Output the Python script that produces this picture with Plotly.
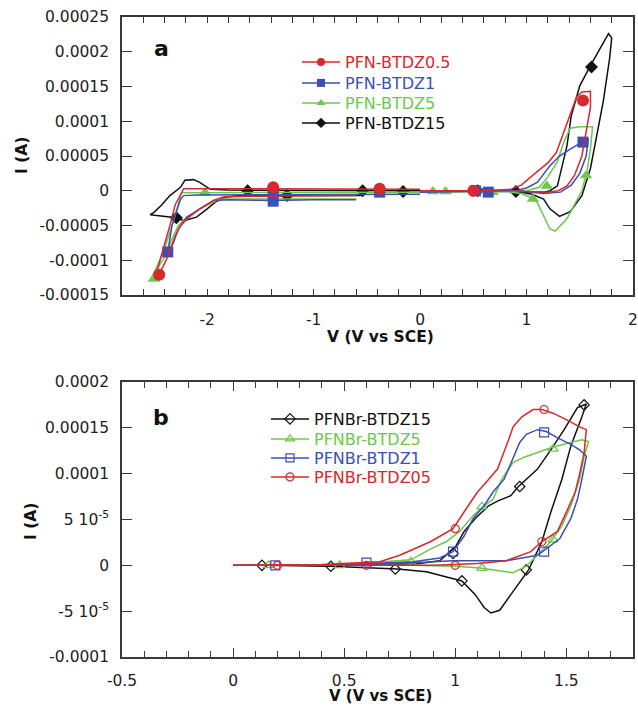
import plotly.graph_objects as go

# ---------------- DATA (current in units of 1e-4 A) ----------------
# Panel a
A_NAMES = ["PFN-BTDZ0.5", "PFN-BTDZ1", "PFN-BTDZ5", "PFN-BTDZ15"]

a_red_v = [0.0, -0.6, -1.0, -1.4, -1.8, -2.1, -2.22, -2.3, -2.35, -2.43, -2.47, -2.49, -2.45, -2.38, -2.3, -2.25, -2.17, -2.07, -1.94, -1.85, -1.6, -1.2, -0.6,
           None,
           0.0, 0.5, 0.85, 0.95, 1.08, 1.2, 1.28, 1.35, 1.42, 1.47, 1.52, 1.6, 1.6, 1.56, 1.52, 1.45, 1.38, 1.3, 1.2, 1.0, 0.9]
a_red_i = [0.02, 0.02, 0.02, 0.03, 0.02, 0.03, 0.03, -0.2, -0.5, -0.93, -1.15, -1.27, -1.2, -0.98, -0.65, -0.5, -0.38, -0.26, -0.14, -0.09, -0.08, -0.08, -0.07,
           None,
           0.0, 0.0, 0.02, 0.08, 0.25, 0.4, 0.55, 0.85, 1.13, 1.35, 1.42, 1.43, 1.2, 0.85, 0.5, 0.22, 0.07, 0.0, -0.02, -0.01, 0.0]
a_red_mv = [-2.45, -1.38, -0.38, 0.5, 1.53]
a_red_mi = [-1.21, 0.05, 0.03, 0.0, 1.3]

a_blue_v = [0.0, -0.6, -1.0, -1.4, -1.8, -2.1, -2.22, -2.25, -2.33, -2.37, -2.32, -2.27, -2.19, -2.07, -1.94, -1.8, -1.4, -1.0, -0.6,
            None,
            0.0, 0.5, 0.9, 1.0, 1.1, 1.22, 1.31, 1.41, 1.5, 1.58, 1.56, 1.5, 1.42, 1.32, 1.16, 1.0, 0.9]
a_blue_i = [-0.05, -0.05, -0.05, -0.06, -0.06, -0.06, -0.07, -0.12, -0.5, -0.88, -0.76, -0.55, -0.38, -0.26, -0.14, -0.13, -0.14, -0.13, -0.13,
            None,
            -0.02, -0.01, 0.0, 0.04, 0.12, 0.36, 0.5, 0.6, 0.68, 0.75, 0.5, 0.25, 0.08, -0.02, -0.04, -0.02, 0.0]
a_blue_mv = [-2.37, -1.38, -1.38, -0.38, 0.52, 0.64, 1.53]
a_blue_mi = [-0.88, -0.07, -0.15, -0.02, 0.0, -0.02, 0.7]

a_green_v = [0.0, -0.6, -1.0, -1.4, -1.8, -2.04, -2.24, -2.33, -2.41, -2.49, -2.53, -2.46, -2.39, -2.33, -2.27, -2.19, -2.07, -1.91, -1.85, -1.4, -1.0, -0.6,
             None,
             0.0, 0.5, 0.9, 1.0, 1.12, 1.2, 1.29, 1.35, 1.41, 1.5, 1.62, 1.6, 1.57, 1.52, 1.45, 1.38, 1.27, 1.22, 1.16, 1.1, 1.05, 0.95, 0.85]
a_green_i = [-0.02, -0.02, -0.02, -0.02, -0.03, -0.03, -0.03, -0.5, -0.88, -1.15, -1.27, -1.1, -0.93, -0.69, -0.5, -0.38, -0.26, -0.14, -0.12, -0.12, -0.12, -0.12,
             None,
             -0.02, -0.02, -0.01, 0.0, 0.05, 0.2, 0.42, 0.7, 0.9, 0.92, 0.92, 0.6, 0.3, 0.0, -0.2, -0.4, -0.58, -0.55, -0.36, -0.17, -0.1, -0.04, -0.02]
a_green_mv = [-2.5, -2.02, 0.12, 0.24, 0.68, 1.06, 1.19, 1.56]
a_green_mi = [-1.27, -0.03, -0.01, -0.01, -0.02, -0.12, 0.07, 0.22]

a_black_v = [0.0, -0.6, -1.0, -1.4, -1.8, -1.97, -2.07, -2.13, -2.21, -2.25, -2.35, -2.43, -2.5, -2.535, -2.44, -2.29, -2.22, -2.1, -2.0, -1.92, -1.82, -1.69, -1.25, -0.9, -0.55,
             None,
             0.0, 0.5, 0.9, 1.17, 1.22, 1.29, 1.38, 1.42, 1.5, 1.6, 1.69, 1.77, 1.8, 1.78, 1.72, 1.66, 1.6, 1.52, 1.41, 1.31, 1.22, 1.16, 1.05, 0.95]
a_black_i = [0.0, 0.0, 0.0, 0.0, 0.01, 0.02, 0.12, 0.16, 0.15, 0.05, -0.07, -0.21, -0.31, -0.345, -0.36, -0.39, -0.43, -0.38, -0.26, -0.16, -0.09, -0.07, -0.07, -0.07, -0.07,
             None,
             0.0, 0.0, -0.01, -0.02, 0.0, 0.07, 0.65, 1.08, 1.51, 1.8, 2.04, 2.26, 2.2, 1.9, 1.28, 0.79, 0.32, -0.07, -0.3, -0.37, -0.26, -0.12, -0.05, -0.02]
a_black_mv = [-2.29, -1.62, -1.25, -0.54, -0.16, 0.54, 0.9, 1.61]
a_black_mi = [-0.39, 0.0, -0.07, 0.0, -0.01, 0.0, -0.01, 1.78]

# Panel b
B_NAMES = ["PFNBr-BTDZ15", "PFNBr-BTDZ5", "PFNBr-BTDZ1", "PFNBr-BTDZ05"]

b_red_v = [0.0, 0.2, 0.6, 0.9, 1.0, 1.1, 1.23, 1.34, 1.39, 1.46, 1.5, 1.54, 1.56, 1.58, 1.59, 1.56, 1.5, 1.44, 1.39, 1.35, 1.3, 1.26, 1.24,
           1.21, 1.19, 1.14, 1.1, 1.05, 0.99, 0.89, 0.75, 0.66, 0.4, 0.0]
b_red_i = [0.0, 0.0, 0.0, 0.0, 0.01, 0.02, 0.05, 0.15, 0.26, 0.37, 0.58, 0.8, 1.0, 1.23, 1.48, 1.51, 1.59, 1.66, 1.7, 1.7, 1.62, 1.51, 1.37,
           1.19, 1.05, 0.91, 0.8, 0.62, 0.4, 0.26, 0.11, 0.04, 0.01, 0.0]
b_red_mv = [0.2, 0.6, 1.0, 1.0, 1.39, 1.4]
b_red_mi = [0.0, 0.0, 0.0, 0.4, 0.26, 1.7]

b_blue_v = [0.0, 0.2, 0.6, 0.99, 1.23, 1.37, 1.41, 1.47, 1.52, 1.55, 1.57, 1.59, 1.56, 1.52, 1.46, 1.41, 1.37, 1.32, 1.29, 1.26, 1.22,
            1.17, 1.13, 1.08, 1.04, 0.99, 0.93, 0.81, 0.5, 0.0]
b_blue_i = [0.0, 0.0, 0.0, 0.05, 0.05, 0.11, 0.18, 0.29, 0.51, 0.72, 0.94, 1.19, 1.26, 1.32, 1.39, 1.46, 1.48, 1.43, 1.34, 1.16, 0.94,
            0.8, 0.65, 0.51, 0.32, 0.15, 0.08, 0.04, 0.01, 0.0]
b_blue_mv = [0.19, 0.6, 0.99, 1.4, 1.4]
b_blue_mi = [0.0, 0.03, 0.15, 0.15, 1.45]

b_green_v = [0.0, 0.16, 0.48, 0.8, 1.0, 1.11, 1.23, 1.26, 1.32, 1.37, 1.43, 1.48, 1.52, 1.56, 1.58, 1.6, 1.57, 1.52, 1.44, 1.38, 1.31,
             1.26, 1.21, 1.17, 1.12, 1.08, 1.02, 0.96, 0.89, 0.8, 0.5, 0.0]
b_green_i = [0.0, 0.0, 0.0, 0.0, -0.01, -0.03, -0.07, -0.08, -0.01, 0.11, 0.26, 0.43, 0.65, 0.94, 1.19, 1.35, 1.37, 1.34, 1.29, 1.24, 1.18,
             1.12, 0.94, 0.72, 0.63, 0.54, 0.37, 0.26, 0.18, 0.06, 0.01, 0.0]
b_green_mv = [0.16, 0.48, 0.8, 1.12, 1.44, 1.44, 1.12]
b_green_mi = [0.0, 0.0, 0.04, -0.03, 0.28, 1.27, 0.64]

b_black_v = [0.0, 0.13, 0.44, 0.74, 0.87, 1.03, 1.09, 1.13, 1.16, 1.2, 1.25, 1.33, 1.39, 1.43, 1.48, 1.52, 1.57, 1.59, 1.55, 1.49,
             1.43, 1.37, 1.28, 1.25, 1.19, 1.15, 1.09, 1.04, 1.0, 0.93, 0.8, 0.5, 0.0]
b_black_i = [0.0, 0.0, -0.01, -0.04, -0.07, -0.17, -0.32, -0.46, -0.52, -0.49, -0.32, -0.05, 0.26, 0.58, 0.94, 1.3, 1.62, 1.76, 1.72, 1.48,
             1.26, 1.05, 0.85, 0.76, 0.7, 0.65, 0.51, 0.37, 0.2, 0.05, 0.01, 0.0, 0.0]
b_black_mv = [0.13, 0.44, 0.73, 1.03, 1.32, 1.29, 0.99, 1.58]
b_black_mi = [0.0, -0.01, -0.04, -0.17, -0.05, 0.86, 0.13, 1.75]

# Tick labels
A_X_TICKVALS = [-2, -1, 0, 1, 2]
A_X_TICKTEXT = ["-2", "-1", "0", "1", "2"]
A_Y_TICKVALS = [-0.00015, -0.0001, -0.00005, 0, 0.00005, 0.0001, 0.00015, 0.0002, 0.00025]
A_Y_TICKTEXT = ["-0.00015", "-0.0001", "-0.00005", "0", "0.00005", "0.0001", "0.00015", "0.0002", "0.00025"]
B_X_TICKVALS = [-0.5, 0, 0.5, 1, 1.5]
B_X_TICKTEXT = ["-0.5", "0", "0.5", "1", "1.5"]
B_Y_TICKVALS = [-0.0001, -0.00005, 0, 0.00005, 0.0001, 0.00015, 0.0002]
B_Y_TICKTEXT = ["-0.0001", "-5 10<sup>-5</sup>", "0", "5 10<sup>-5</sup>", "0.0001", "0.00015", "0.0002"]

SCALE = 1e-4  # data above stored in units of 1e-4 A


def amps(vals):
    return [None if v is None else v * SCALE for v in vals]


# ---------------- STYLE ----------------
RED = "#d8282c"
BLUE = "#3b4fb4"
GREEN = "#6cc84c"
BLACK = "#111111"
FONT = "DejaVu Sans, Liberation Sans, Arial, sans-serif"
W, H = 638, 706


def px_x(px):
    return px / W


def px_y(py):
    return 1 - py / H


fig = go.Figure()

# name, v, i, marker v, marker i, colour, symbol, size, legend anchor (px)
a_series = [
    (A_NAMES[3], a_black_v, a_black_i, a_black_mv, a_black_mi, BLACK, "diamond", 10, (297, 106)),
    (A_NAMES[2], a_green_v, a_green_i, a_green_mv, a_green_mi, GREEN, "triangle-up", 11, (297, 86)),
    (A_NAMES[1], a_blue_v, a_blue_i, a_blue_mv, a_blue_mi, BLUE, "square", 11, (297, 66)),
    (A_NAMES[0], a_red_v, a_red_i, a_red_mv, a_red_mi, RED, "circle", 12, (297, 45)),
]
b_series = [
    (B_NAMES[0], b_black_v, b_black_i, b_black_mv, b_black_mi, BLACK, "diamond-open", 8, (266, 402)),
    (B_NAMES[1], b_green_v, b_green_i, b_green_mv, b_green_mi, GREEN, "triangle-up-open", 9, (266, 422)),
    (B_NAMES[2], b_blue_v, b_blue_i, b_blue_mv, b_blue_mi, BLUE, "square-open", 9, (266, 441)),
    (B_NAMES[3], b_red_v, b_red_i, b_red_mv, b_red_mi, RED, "circle-open", 8, (266, 460)),
]

legend_layouts = {}
leg_idx = 0

for panel, series, xa, ya, open_mk in (("a", a_series, "x", "y", False), ("b", b_series, "x2", "y2", True)):
    for (name, v, i, mv, mi, col, sym, sz, lpos) in series:
        fig.add_trace(go.Scatter(x=v, y=amps(i), mode="lines", line=dict(color=col, width=1.5),
                                 showlegend=False, xaxis=xa, yaxis=ya))
        mline = dict(width=1.2, color=col) if open_mk else dict(width=0)
        fig.add_trace(go.Scatter(x=mv, y=amps(mi), mode="markers",
                                 marker=dict(color=col, symbol=sym, size=sz, line=mline),
                                 showlegend=False, xaxis=xa, yaxis=ya))
        leg_idx += 1
        lname = "legend" if leg_idx == 1 else f"legend{leg_idx}"
        fig.add_trace(go.Scatter(x=[None], y=[None], mode="lines+markers",
                                 name=f"<span style='color:{col}'>{name}</span>",
                                 line=dict(color=col, width=1.5),
                                 marker=dict(color=col, symbol=sym, size=8, line=mline),
                                 xaxis=xa, yaxis=ya, legend=lname, showlegend=True))
        legend_layouts[lname] = dict(x=px_x(lpos[0]), y=px_y(lpos[1]), xanchor="left", yanchor="top",
                                     bgcolor="rgba(0,0,0,0)", borderwidth=0, itemwidth=38,
                                     font=dict(family=FONT, size=16))

axis_common = dict(showgrid=False, zeroline=False, showline=True, linecolor="#3a3a3a", linewidth=1.6,
                   mirror="allticks", ticks="inside", tickcolor="#3a3a3a", tickwidth=1.2,
                   automargin=False, tickmode="array",
                   tickfont=dict(family=FONT, size=15.5, color="#222"))

ann_common = dict(xref="paper", yref="paper", showarrow=False, xanchor="center", yanchor="middle")

fig.update_layout(
    width=W, height=H, margin=dict(l=0, r=0, t=0, b=0, pad=0, autoexpand=False),
    paper_bgcolor="white", plot_bgcolor="white",
    font=dict(family=FONT, size=16, color="#222"),
    xaxis=dict(domain=[px_x(122), px_x(633)], range=[-2.8, 2.0],
               tickvals=A_X_TICKVALS, ticktext=A_X_TICKTEXT,
               ticklen=6, ticklabelstandoff=10,
               minor=dict(tickmode="linear", dtick=0.2, tick0=0, ticks="inside", ticklen=6,
                          tickcolor="#3a3a3a", tickwidth=1.2),
               anchor="y", **axis_common),
    yaxis=dict(domain=[px_y(295), px_y(17)], range=[-0.00015, 0.00025],
               tickvals=A_Y_TICKVALS, ticktext=A_Y_TICKTEXT,
               ticklen=10, ticklabelstandoff=8, anchor="x", **axis_common),
    xaxis2=dict(domain=[px_x(122), px_x(633)], range=[-0.5, 1.8],
                tickvals=B_X_TICKVALS, ticktext=B_X_TICKTEXT,
                ticklen=9, ticklabelstandoff=9,
                minor=dict(tickmode="linear", dtick=0.1, tick0=0, ticks="inside", ticklen=6,
                           tickcolor="#3a3a3a", tickwidth=1.2),
                anchor="y2", **axis_common),
    yaxis2=dict(domain=[px_y(657), px_y(382)], range=[-0.0001, 0.0002],
                tickvals=B_Y_TICKVALS, ticktext=B_Y_TICKTEXT,
                ticklen=10, ticklabelstandoff=8, anchor="x2", **axis_common),
    annotations=[
        dict(text="<b>a</b>", x=px_x(161), y=px_y(49), font=dict(family=FONT, size=22, color="#111"), **ann_common),
        dict(text="<b>b</b>", x=px_x(161), y=px_y(417), font=dict(family=FONT, size=22, color="#111"), **ann_common),
        dict(text="<b>I (A)</b>", x=px_x(22), y=px_y(156), textangle=-90,
             font=dict(family=FONT, size=15.5, color="#111"), **ann_common),
        dict(text="<b>I (A)</b>", x=px_x(31), y=px_y(521), textangle=-90,
             font=dict(family=FONT, size=15.5, color="#111"), **ann_common),
        dict(text="<b>V (V vs SCE)</b>", x=px_x(381), y=px_y(337),
             font=dict(family=FONT, size=15.5, color="#111"), **ann_common),
        dict(text="<b>V (V vs SCE)</b>", x=px_x(381), y=px_y(696),
             font=dict(family=FONT, size=15, color="#111"), **ann_common),
    ],
)
fig.update_layout(**legend_layouts)

fig.write_html("out.html")
